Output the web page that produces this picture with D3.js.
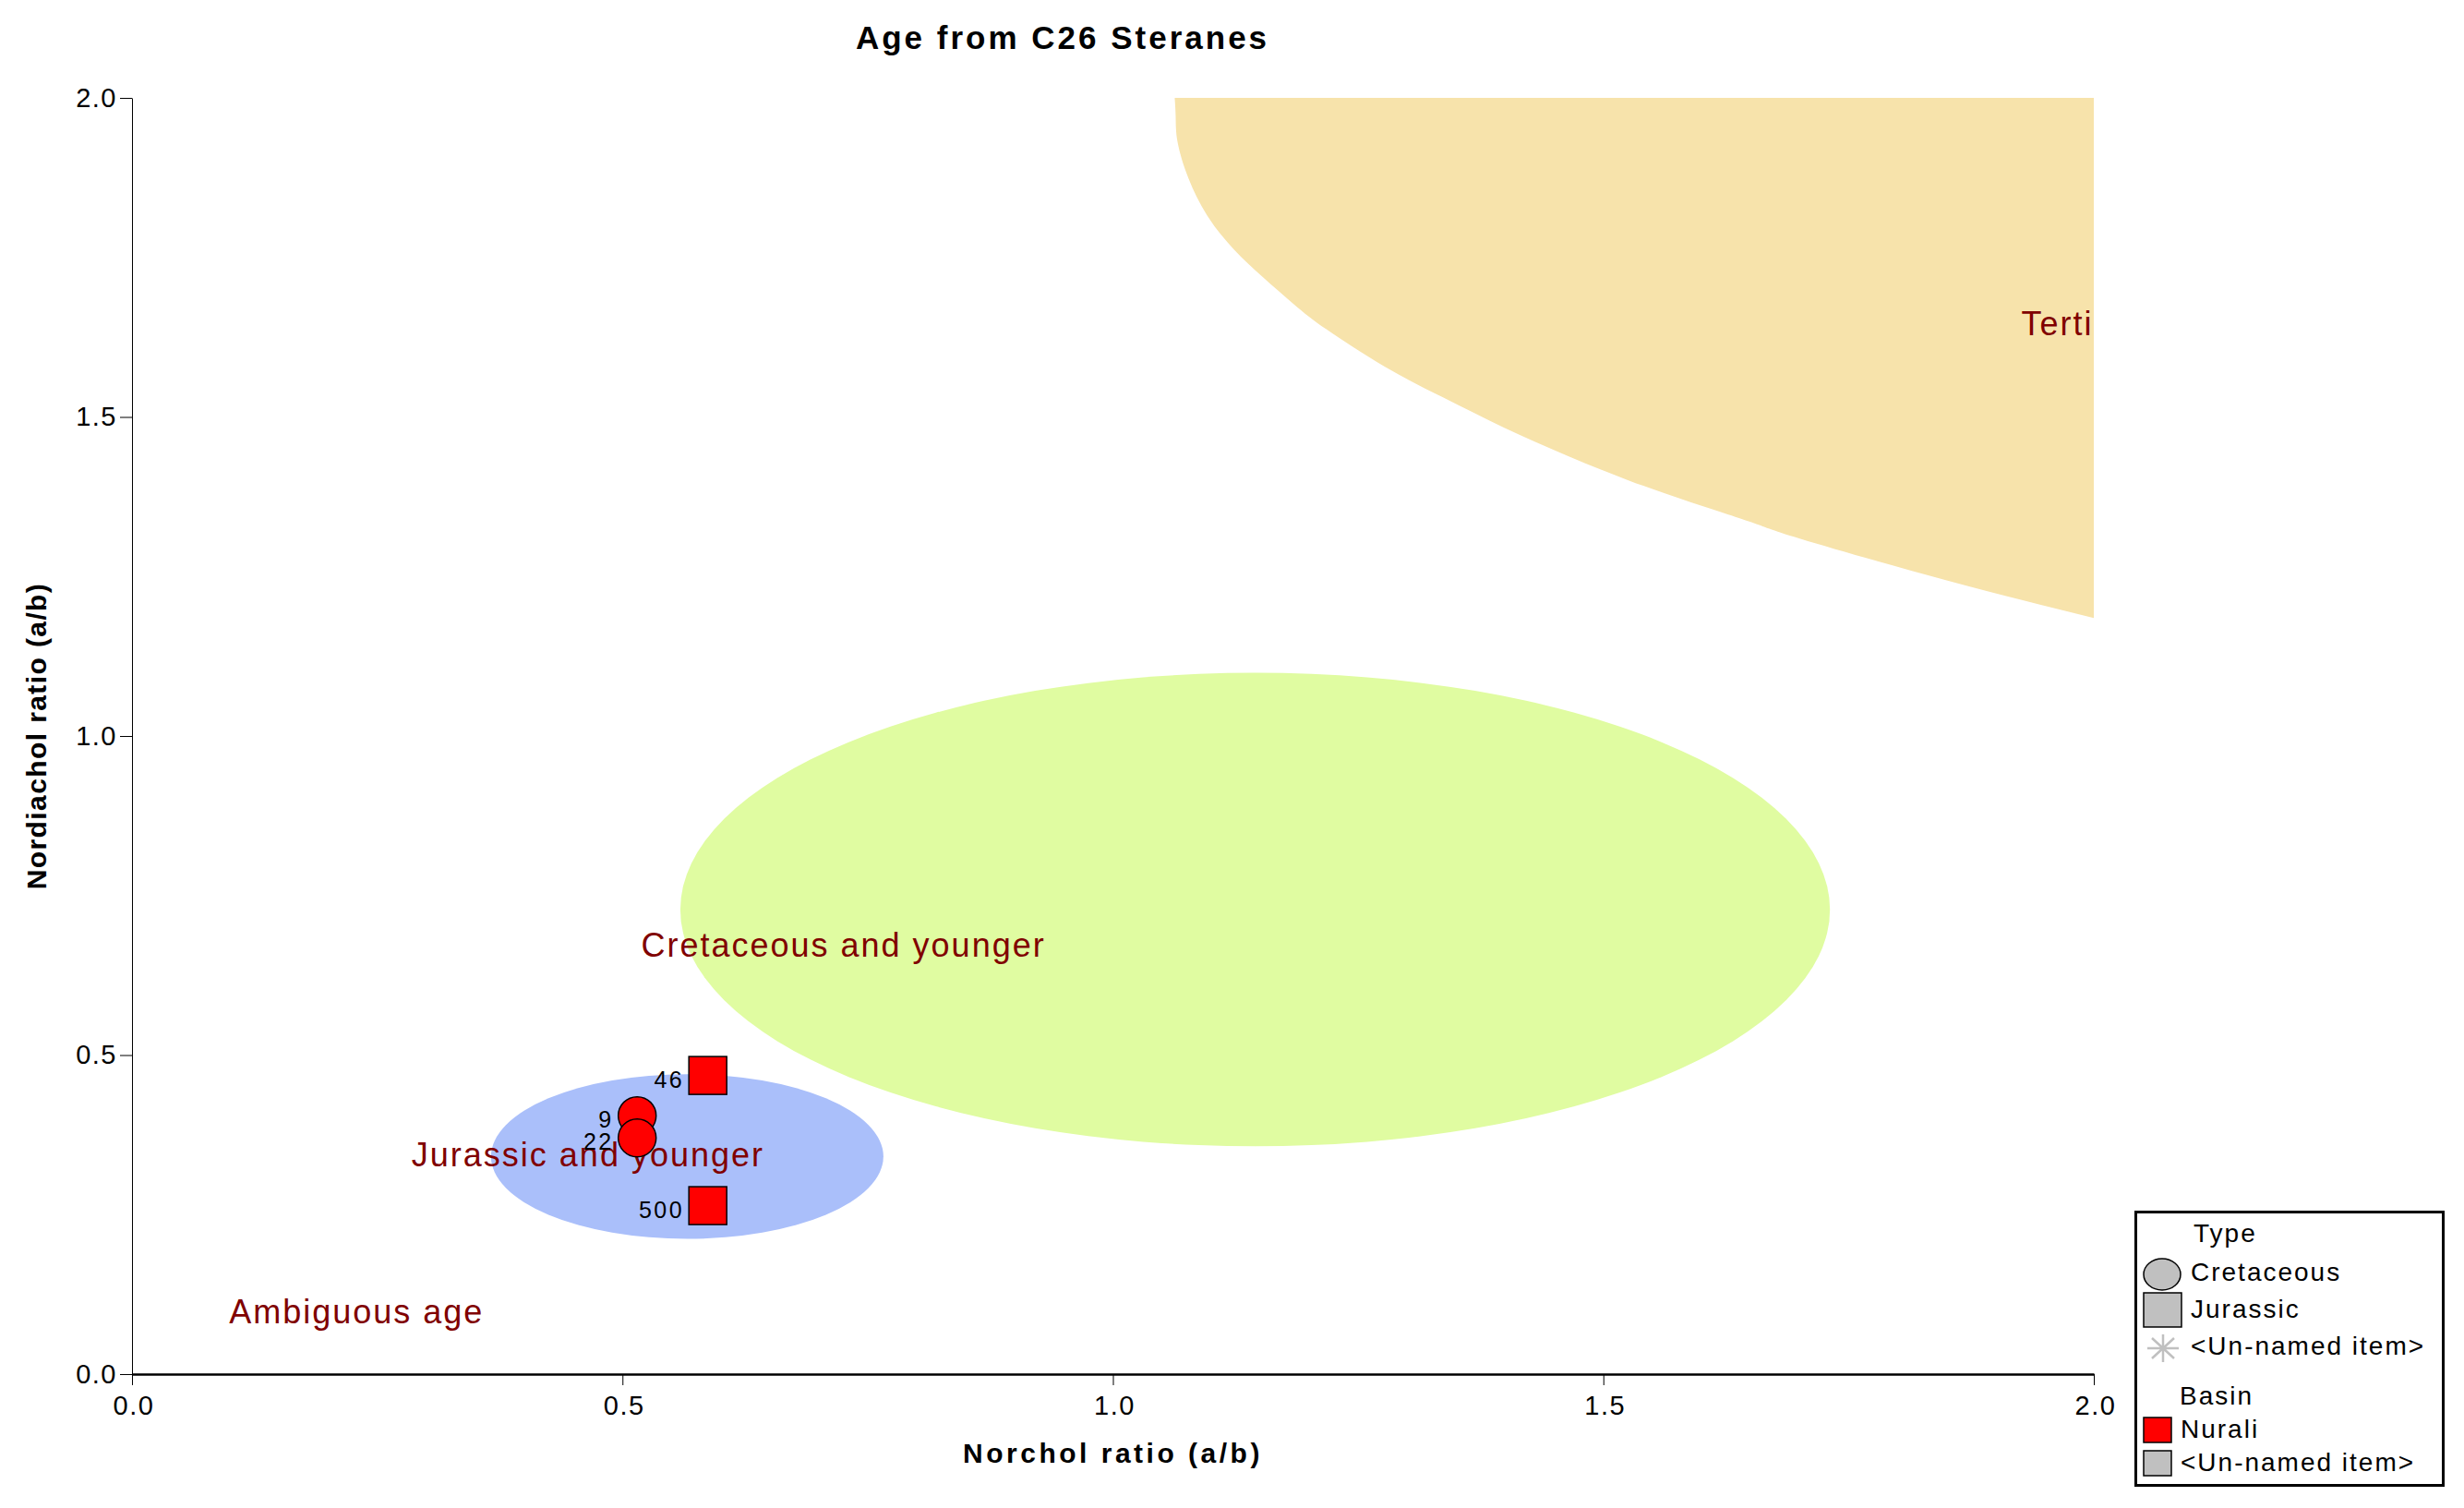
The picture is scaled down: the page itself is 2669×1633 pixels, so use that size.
<!DOCTYPE html>
<html>
<head>
<meta charset="utf-8">
<script src="https://cdn.jsdelivr.net/npm/d3@7"></script>
<style>
    body { margin: 0; background: #fff; }
    svg { display: block; font-family: "Liberation Sans", Arial, sans-serif; }
</style>
</head>
<body>
<svg id="chart" width="2669" height="1633"></svg>
<script>
// samples
const sampleIds = ["46", "9", "22", "500"];
const norchol = [0.587, 0.515, 0.515, 0.587];
const nordiachol = [0.468, 0.405, 0.370, 0.264];
const sampleType = ["Jurassic", "Cretaceous", "Cretaceous", "Jurassic"];
const sampleBasin = ["Nurali", "Nurali", "Nurali", "Nurali"];

// age fields (ellipses, in axis units)
const ellipseNames = ["Cretaceous and younger", "Jurassic and younger"];
const ellipseCx = [1.145, 0.566];
const ellipseCy = [0.728, 0.341];
const ellipseRx = [0.586, 0.200];
const ellipseRy = [0.371, 0.129];
const ellipseColors = ["#e0fca1", "#aabffa"];

// tertiary field boundary
const tertiaryX = [1.063, 1.064, 1.066, 1.077, 1.096, 1.123, 1.153, 1.185, 1.218, 1.277, 1.336, 1.399, 1.462, 1.525, 1.588, 1.651, 1.701, 1.850, 2.0];
const tertiaryY = [2.0, 1.970, 1.930, 1.874, 1.816, 1.763, 1.719, 1.676, 1.637, 1.579, 1.531, 1.483, 1.440, 1.401, 1.367, 1.335, 1.309, 1.244, 1.185];

const fieldLabels = ["Tertiary", "Cretaceous and younger", "Jurassic and younger", "Ambiguous age"];
const fieldLabelX = [1.926, 0.519, 0.285, 0.099];
const fieldLabelY = [1.628, 0.654, 0.325, 0.080];

const tickValues = [0, 0.5, 1.0, 1.5, 2.0];
const typeLegend = ["Cretaceous", "Jurassic", "<Un-named item>"];
const basinLegend = ["Nurali", "<Un-named item>"];

class AgeChart {
    constructor(canvas, width, height, margin) {
        this.canvas = canvas;
        this.width = width;
        this.height = height;
        this.margin = margin;
        this.graphWidth = width - margin.left - margin.right;
        this.graphHeight = height - margin.top - margin.bottom;
    }

    graphScales() {
        this.x = d3.scaleLinear()
            .domain([0, 2])
            .range([this.margin.left, this.margin.left + this.graphWidth]);
        this.y = d3.scaleLinear()
            .domain([0, 2])
            .range([this.margin.top + this.graphHeight, this.margin.top]);
    }

    graphRegions() {
        this.canvas.append("clipPath")
            .attr("id", "plot-clip")
            .append("rect")
            .attr("x", this.margin.left)
            .attr("y", this.margin.top)
            .attr("width", this.graphWidth)
            .attr("height", this.graphHeight);

        const regions = this.canvas.append("g").attr("clip-path", "url(#plot-clip)");

        const boundary = tertiaryX.map((v, i) => [this.x(v), this.y(tertiaryY[i])]);
        const line = d3.line().curve(d3.curveNatural);
        regions.append("path")
            .attr("d", line(boundary) + `L${this.x(2)},${this.y(2)}Z`)
            .attr("fill", "#f7e3ab");

        regions.selectAll("ellipse")
            .data(ellipseNames)
            .enter()
            .append("ellipse")
            .attr("cx", (d, i) => this.x(ellipseCx[i]))
            .attr("cy", (d, i) => this.y(ellipseCy[i]))
            .attr("rx", (d, i) => this.x(ellipseRx[i]) - this.x(0))
            .attr("ry", (d, i) => this.y(0) - this.y(ellipseRy[i]))
            .attr("fill", (d, i) => ellipseColors[i]);

        regions.selectAll("text.field")
            .data(fieldLabels)
            .enter()
            .append("text")
            .attr("class", "field")
            .attr("x", (d, i) => this.x(fieldLabelX[i]))
            .attr("y", (d, i) => this.y(fieldLabelY[i]))
            .attr("font-size", 36)
            .attr("letter-spacing", 2)
            .attr("fill", "#800000")
            .text(d => d);
    }

    graphAxes() {
        const xAxis = d3.axisBottom(this.x)
            .tickValues(tickValues)
            .tickFormat(d3.format(".1f"))
            .tickSize(12)
            .tickSizeOuter(0)
            .tickPadding(11);
        const yAxis = d3.axisLeft(this.y)
            .tickValues(tickValues)
            .tickFormat(d3.format(".1f"))
            .tickSize(13)
            .tickSizeOuter(0)
            .tickPadding(3);

        const xg = this.canvas.append("g")
            .attr("transform", `translate(0, ${this.y(0)})`)
            .call(xAxis);
        const yg = this.canvas.append("g")
            .attr("transform", `translate(${this.x(0)}, 0)`)
            .call(yAxis);

        xg.select(".domain").attr("stroke-width", 2.5);
        yg.select(".domain").attr("stroke-width", 1);
        [xg, yg].forEach(g => {
            g.selectAll(".tick line").attr("stroke-width", 1);
            g.selectAll("text")
                .attr("font-size", 29)
                .attr("letter-spacing", 1.5)
                .attr("fill", "#000")
                .attr("font-family", "Liberation Sans, Arial, sans-serif");
        });
        xg.selectAll("text").attr("dx", "0.05em");

        this.canvas.append("text")
            .text("Norchol ratio (a/b)")
            .attr("x", this.x(1))
            .attr("y", 1584)
            .attr("text-anchor", "middle")
            .attr("font-size", 30)
            .attr("font-weight", "bold")
            .attr("letter-spacing", 3.5);

        this.canvas.append("text")
            .text("Nordiachol ratio (a/b)")
            .attr("text-anchor", "middle")
            .attr("transform", `translate(50, ${this.y(1)}) rotate(-90)`)
            .attr("font-size", 30)
            .attr("font-weight", "bold")
            .attr("letter-spacing", 1.4);

        this.canvas.append("text")
            .text("Age from C26 Steranes")
            .attr("x", 1151)
            .attr("y", 53)
            .attr("text-anchor", "middle")
            .attr("font-size", 35)
            .attr("font-weight", "bold")
            .attr("letter-spacing", 3);
    }

    graphPoints() {
        const half = 20.5;
        const pts = this.canvas.append("g");
        const idx = sampleIds.map((d, i) => i);

        pts.selectAll("rect")
            .data(idx.filter(i => sampleType[i] === "Jurassic"))
            .enter()
            .append("rect")
            .attr("x", i => this.x(norchol[i]) - half)
            .attr("y", i => this.y(nordiachol[i]) - half)
            .attr("width", half * 2)
            .attr("height", half * 2)
            .attr("fill", "#ff0000")
            .attr("stroke", "#000")
            .attr("stroke-width", 1.5);

        pts.selectAll("circle")
            .data(idx.filter(i => sampleType[i] === "Cretaceous"))
            .enter()
            .append("circle")
            .attr("cx", i => this.x(norchol[i]))
            .attr("cy", i => this.y(nordiachol[i]))
            .attr("r", half)
            .attr("fill", "#ff0000")
            .attr("stroke", "#000")
            .attr("stroke-width", 1.5);

        pts.selectAll("text")
            .data(idx)
            .enter()
            .append("text")
            .attr("x", i => this.x(norchol[i]) - half - 5)
            .attr("y", i => this.y(nordiachol[i]) + 13)
            .attr("text-anchor", "end")
            .attr("font-size", 25)
            .attr("letter-spacing", 2.5)
            .text(i => sampleIds[i]);
    }

    graphLegend() {
        const lg = this.canvas.append("g");
        const fs = 28;
        lg.append("rect")
            .attr("x", 2313.5).attr("y", 1312.5)
            .attr("width", 333).attr("height", 296)
            .attr("fill", "#fff").attr("stroke", "#000").attr("stroke-width", 3);

        const txt = (s, x, y) => lg.append("text")
            .attr("x", x).attr("y", y)
            .attr("font-size", fs).attr("letter-spacing", 2)
            .text(s);

        txt("Type", 2376, 1345);
        const typeRows = [1387, 1427, 1467];
        typeLegend.forEach((s, i) => txt(s, 2373, typeRows[i]));

        lg.append("ellipse")
            .attr("cx", 2342).attr("cy", 1380).attr("rx", 20).attr("ry", 17)
            .attr("fill", "#c0c0c0").attr("stroke", "#000").attr("stroke-width", 1.5);
        lg.append("rect")
            .attr("x", 2322).attr("y", 1400).attr("width", 41).attr("height", 37)
            .attr("fill", "#c0c0c0").attr("stroke", "#000").attr("stroke-width", 1.5);
        const ax = 2343, ay = 1460, a = 17, b = 15;
        lg.append("path")
            .attr("d", `M${ax - a},${ay}L${ax + a},${ay}M${ax},${ay - b}L${ax},${ay + b}` +
                `M${ax - 12},${ay - 11}L${ax + 12},${ay + 11}M${ax - 12},${ay + 11}L${ax + 12},${ay - 11}`)
            .attr("stroke", "#c0c0c0").attr("stroke-width", 2.5);

        txt("Basin", 2361, 1521);
        const basinRows = [1557, 1593];
        const basinColors = ["#ff0000", "#c0c0c0"];
        basinLegend.forEach((s, i) => {
            lg.append("rect")
                .attr("x", 2322).attr("y", basinRows[i] - 22).attr("width", 30).attr("height", 27)
                .attr("fill", basinColors[i]).attr("stroke", "#000").attr("stroke-width", 1.5);
            txt(s, 2362, basinRows[i]);
        });
    }

    grapher() {
        this.graphScales();
        this.graphRegions();
        this.graphAxes();
        this.graphPoints();
        this.graphLegend();
    }
}

const svg = d3.select("#chart");
const chart = new AgeChart(svg, 2669, 1633, { top: 106, right: 401, bottom: 145, left: 143 });
chart.grapher();
</script>
</body>
</html>
